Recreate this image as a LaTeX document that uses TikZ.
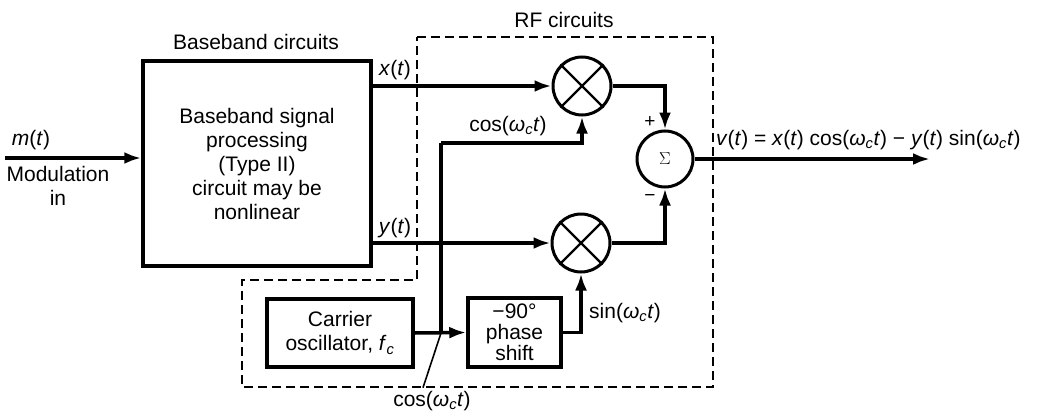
\documentclass[tikz,border=0pt]{standalone}
\usepackage{fontspec}
\setmainfont{Liberation Sans}
\usetikzlibrary{arrows.meta}
\newcommand{\wct}{\textit{ω}\textsubscript{\textit{c}}\textit{t}}

\begin{document}
\begin{tikzpicture}[x=1pt, y=-1pt,
    font=\fontsize{21}{24}\selectfont,
    wire/.style={line width=3.5pt},
    sig/.style={line width=3.5pt, -{Latex[length=17pt,width=12pt]}},
    blk/.style={draw, line width=3.5pt, align=center, inner sep=0pt},
    mix/.style={draw, circle, line width=3pt, minimum size=58pt, inner sep=0pt},
    region/.style={line width=1.6pt, dash pattern=on 9pt off 5pt}]
  \useasboundingbox (0,0) rectangle (1038,412);
  % RF region
  \draw[region] (417,37) -- (713,37) -- (713,387) -- (242,387)
    -- (242,280) -- (417,280) -- cycle;
  \node at (564,20) {RF circuits};
  \node at (256,42) {Baseband circuits};

  \node[blk, minimum width=228pt, minimum height=205pt] (bb) at (257,163.5)
    {Baseband signal\\processing\\(Type II)\\circuit may be\\nonlinear};
  \node[blk, minimum width=146pt, minimum height=68pt] (osc) at (340,333)
    {Carrier\\oscillator, \textit{f}\textsubscript{\textit{c}}};
  \node[blk, minimum width=93pt, minimum height=69pt,
        font=\fontsize{21}{21}\selectfont] (shift) at (514.5,332.5)
    {−90°\\phase\\shift};
  \node[mix] (mx) at (582,86) {};
  \node[mix] (my) at (581,243) {};
  \node[mix, minimum size=56pt, font=\fontsize{17}{17}\selectfont] (sum) at (665,159) {$\Sigma$};
  \foreach \m in {mx,my} {
    \draw[line width=2.2pt] (\m.45) -- (\m.225);
    \draw[line width=2.2pt] (\m.135) -- (\m.-45);
  }

  \coordinate (in) at (5,158);
  \coordinate (j) at (441,333);
  \coordinate (cup) at (441,143);
  \coordinate (out) at (930,159);

  \node (m) at (31,140) {\textit{m}(\textit{t})};
  \node[align=center] (modin) at (58,186) {Modulation\\in};
  \draw[sig] (in) -- (bb.west |- in);

  \draw[sig] (bb.east |- mx.west) -- (mx.west);
  \draw[sig] (bb.east |- my.west) -- (my.west);
  \node (xt) at (395,70) {\textit{x}(\textit{t})};
  \node (yt) at (395,228) {\textit{y}(\textit{t})};

  \draw[sig] (osc.east) -- (shift.west);
  \draw[wire] (j) -- (cup);
  \draw[sig] (cup) -| (mx.south);
  \draw[sig] (shift.east) -| (my.south);
  \node (cosu) at (508,126) {cos(\wct)};
  \node (sinl) at (625,313) {sin(\wct)};
  \node (cosb) at (432,401) {cos(\wct)};
  \draw[line width=1.6pt] ([xshift=-9pt]cosb.north) -- (j);

  \draw[sig] (mx.east) -| (sum.north);
  \draw[sig] (my.east) -| (sum.south);
  \node[font=\fontsize{19}{19}\selectfont] (plus) at (650,122) {+};
  \node[font=\fontsize{19}{19}\selectfont] (minus) at (650,198) {−};

  \draw[sig] (sum.east) -- (out);
  \node[anchor=west, inner sep=0pt] (vt) at (716,140)
    {\textit{v}(\textit{t}) = \textit{x}(\textit{t}) cos(\wct) − \textit{y}(\textit{t}) sin(\wct)};
\end{tikzpicture}
\end{document}
